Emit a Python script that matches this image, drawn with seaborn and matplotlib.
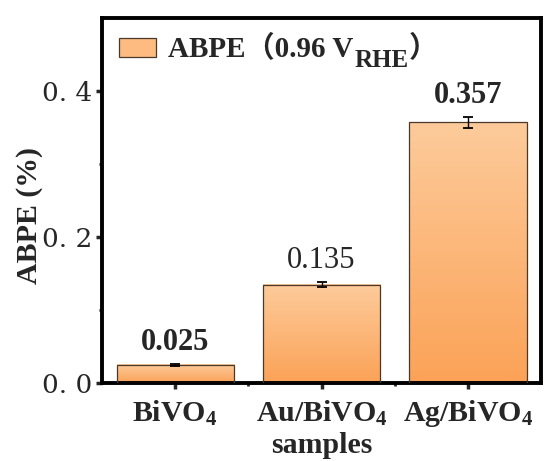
import numpy as np
import pandas as pd
import matplotlib
matplotlib.use("Agg")
import matplotlib.pyplot as plt
import seaborn as sns
from matplotlib.colors import LinearSegmentedColormap
from matplotlib.patches import Patch
from matplotlib.ticker import FixedLocator

# ---- data ----
samples = ["BiVO4", "Au/BiVO4", "Ag/BiVO4"]
sample_labels = ["BiVO$_4$", "Au/BiVO$_4$", "Ag/BiVO$_4$"]
abpe = [0.025, 0.135, 0.357]
abpe_err = [0.001, 0.004, 0.007]
value_texts = ["0.025", "0.135", "0.357"]
y_ticks = [0.0, 0.2, 0.4]
y_tick_labels = ["0. 0", "0. 2", "0. 4"]
legend_main = "ABPE（0.96 V"
legend_sub = "RHE"
legend_close = "）"

label_bold = [True, False, True]

sns.set_style("ticks")
FAM = ["Liberation Serif", "Noto Sans CJK SC", "DejaVu Serif"]
plt.rcParams["font.family"] = FAM
plt.rcParams["font.weight"] = "bold"
plt.rcParams["mathtext.fontset"] = "custom"
plt.rcParams["mathtext.rm"] = "Liberation Serif:bold"
plt.rcParams["mathtext.bf"] = "Liberation Serif:bold"
plt.rcParams["mathtext.default"] = "rm"

df = pd.DataFrame({"samples": samples, "ABPE": abpe})

fig = plt.figure(figsize=(5.45, 4.61), dpi=100)
ax = fig.add_axes([0.187, 0.169, 0.806, 0.792])

sns.barplot(data=df, x="samples", y="ABPE", ax=ax, width=0.8,
            color="#FDB77A", edgecolor="#4a3828", linewidth=0.9,
            errorbar=None, zorder=3)

light = "#FDCB9B"
dark = "#FBA257"
cmap = LinearSegmentedColormap.from_list("grad", [dark, light])
grad = np.linspace(0, 1, 256).reshape(-1, 1)
for p in ax.patches:
    x0, y0 = p.get_x(), p.get_y()
    w, h = p.get_width(), p.get_height()
    ax.imshow(grad, cmap=cmap, extent=[x0, x0 + w, y0, y0 + h],
              origin="lower", aspect="auto", zorder=2, interpolation="bilinear")
    p.set_facecolor("none")

ax.errorbar(x=np.arange(len(samples)), y=abpe, yerr=abpe_err, fmt="none",
            ecolor="black", elinewidth=1.0, capsize=3.3, capthick=1.3, zorder=4)

for i, (v, e, t, b) in enumerate(zip(abpe, abpe_err, value_texts, label_bold)):
    ax.annotate(t, (i, v + e), xytext=(0, 10), textcoords="offset points",
                ha="center", va="baseline", fontsize=22,
                fontweight="bold" if b else "normal")

ax.set_xlim(-0.5, 2.5)
ax.set_ylim(0, 0.5)

ax.yaxis.set_major_locator(FixedLocator(y_ticks))
ax.set_yticklabels(y_tick_labels, fontsize=19, fontweight="normal",
                   family="DejaVu Serif")
ax.yaxis.set_minor_locator(FixedLocator([0.1, 0.3]))
ax.xaxis.set_minor_locator(FixedLocator([0.5, 1.5]))
ax.set_xticks(range(len(samples)))
ax.set_xticklabels(sample_labels, fontsize=21.5, fontweight="bold")

ax.tick_params(axis="y", which="major", direction="out", length=4,
               width=2.5, right=False, pad=3)
ax.tick_params(axis="x", which="major", direction="out", length=4,
               width=2.5, top=False, pad=7)
ax.tick_params(axis="both", which="minor", direction="out", length=2.5,
               width=2.0, top=False, right=False)

for s in ax.spines.values():
    s.set_visible(True)
    s.set_linewidth(2.8)
    s.set_color("black")

ax.set_xlabel("samples", fontsize=21.5, fontweight="bold")
ax.xaxis.set_label_coords(0.5, -0.135)
ax.set_ylabel("ABPE (%)", fontsize=21.5, fontweight="bold")
ax.yaxis.set_label_coords(-0.135, 0.46)

handle = Patch(facecolor="#FDBB82", edgecolor="#4a3828", linewidth=0.9)
leg = ax.legend([handle], [legend_main], loc="upper left", frameon=False,
                prop={"size": 21, "weight": "bold", "family": FAM},
                handlelength=1.25, handleheight=0.65, handletextpad=0.4,
                borderaxespad=0.2, bbox_to_anchor=(0.0, 1.0))
leg.set_zorder(5)
ltext = leg.get_texts()[0]
sub = ax.annotate(legend_sub, xy=(1, 0), xycoords=ltext, xytext=(1, -6),
                  textcoords="offset points", ha="left", va="bottom",
                  fontsize=18, fontweight="bold", family=FAM, zorder=7,
                  annotation_clip=False)
ax.annotate(legend_close, xy=(1, 0), xycoords=(sub, ltext), xytext=(0, 0),
            textcoords="offset points", ha="left", va="bottom",
            fontsize=21, fontweight="bold", family=FAM, zorder=8,
            annotation_clip=False)

fig.canvas.draw()
fig.savefig("out.png", dpi=100)
